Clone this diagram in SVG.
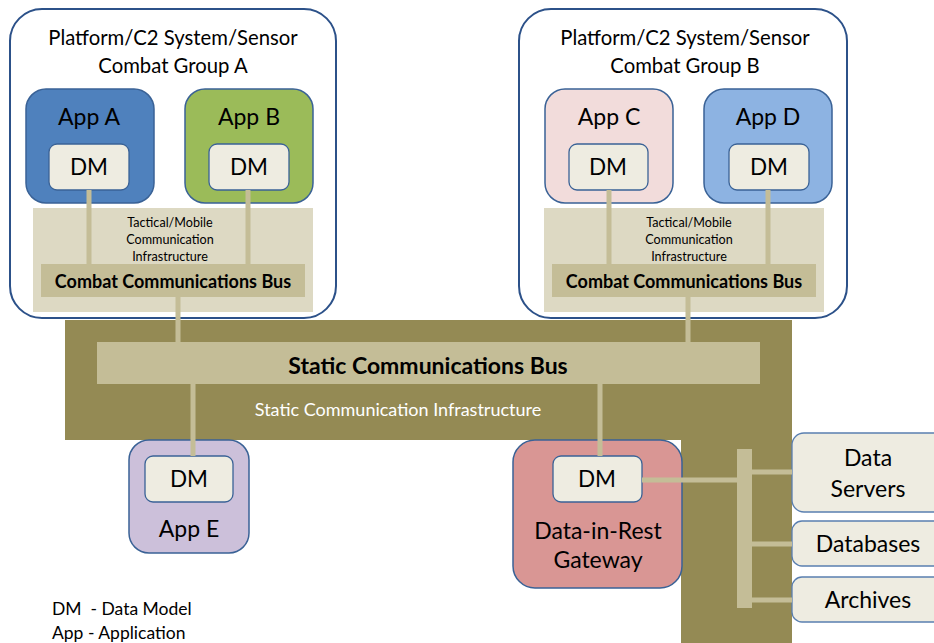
<svg xmlns="http://www.w3.org/2000/svg" width="934" height="643" viewBox="0 0 934 643">
<style>
text{font-family:Lato,"Liberation Sans",sans-serif;fill:#000;text-anchor:middle}
.grp{fill:#fff;stroke:#2c5189;stroke-width:2}
.app{stroke:#3a6296;stroke-width:1.5}
.dm{fill:#eeece1;stroke:#3a6296;stroke-width:1.3}
.tac{fill:#ddd9c3}
.bus{fill:#c4bd97}
.olive{fill:#948a54}
.conn{stroke:#c4bd97;stroke-width:5;fill:none}
.store{fill:#eeece1;stroke:#5a7fb0;stroke-width:1.3}
.t19{font-size:20.3px}
.t22{font-size:23px}
.dmt{font-size:22.5px}
.small{font-size:12.6px}
.bold{font-weight:bold}
</style>
<g id="static-infrastructure">
<path class="olive" d="M65 320 H792 V643 H681 V440 H65 Z"/>
<rect class="bus" x="97" y="342" width="663" height="42"/>
<text class="bold" x="428" y="374" style="font-size:23px">Static Communications Bus</text>
<text x="398" y="416" style="font-size:18px;fill:#fff">Static Communication Infrastructure</text>
</g>
<g id="group-a">
<rect class="grp" x="10" y="9" width="326" height="309" rx="32"/>
<text class="t19" x="173" y="45">Platform/C2 System/Sensor</text>
<text class="t19" x="173" y="73">Combat Group A</text>
<rect class="tac" x="33" y="208" width="280" height="104"/>
<text class="small" x="170" y="227">Tactical/Mobile</text>
<text class="small" x="170" y="244">Communication</text>
<text class="small" x="170" y="261">Infrastructure</text>
<rect class="bus" x="41" y="264" width="264" height="33"/>
<text class="bold" x="173" y="288" style="font-size:18px">Combat Communications Bus</text>
</g>
<g id="app-a">
<rect class="app" x="26" y="89" width="128" height="114" rx="20" fill="#4f81bd"/>
<text class="t22" x="89" y="125">App A</text>
<rect class="dm" x="49" y="144" width="80" height="46" rx="8"/>
<text class="dmt" x="89" y="175">DM</text>
</g>
<g id="app-b">
<rect class="app" x="185" y="89" width="128" height="114" rx="20" fill="#9bbb59"/>
<text class="t22" x="249" y="125">App B</text>
<rect class="dm" x="209" y="144" width="80" height="46" rx="8"/>
<text class="dmt" x="249" y="175">DM</text>
</g>
<g id="group-b">
<rect class="grp" x="519" y="9" width="328" height="309" rx="32"/>
<text class="t19" x="685" y="45">Platform/C2 System/Sensor</text>
<text class="t19" x="685" y="73">Combat Group B</text>
<rect class="tac" x="544" y="208" width="280" height="104"/>
<text class="small" x="689" y="227">Tactical/Mobile</text>
<text class="small" x="689" y="244">Communication</text>
<text class="small" x="689" y="261">Infrastructure</text>
<rect class="bus" x="552" y="264" width="264" height="33"/>
<text class="bold" x="684" y="288" style="font-size:18px">Combat Communications Bus</text>
</g>
<g id="app-c">
<rect class="app" x="545" y="89" width="128" height="114" rx="20" fill="#f2dcdb"/>
<text class="t22" x="609" y="125">App C</text>
<rect class="dm" x="569" y="144" width="79" height="46" rx="8"/>
<text class="dmt" x="608" y="175">DM</text>
</g>
<g id="app-d">
<rect class="app" x="704" y="89" width="128" height="114" rx="20" fill="#8db3e2"/>
<text class="t22" x="768" y="125">App D</text>
<rect class="dm" x="729" y="144" width="80" height="46" rx="8"/>
<text class="dmt" x="769" y="175">DM</text>
</g>
<g id="app-e">
<rect class="app" x="129" y="440" width="120" height="113" rx="20" fill="#ccc0da"/>
<rect class="dm" x="145" y="456" width="88" height="46" rx="8"/>
<text class="dmt" x="189" y="487">DM</text>
<text class="t22" x="189" y="537">App E</text>
</g>
<g id="gateway">
<rect class="app" x="513" y="440" width="169" height="148" rx="22" fill="#d99694"/>
<rect class="dm" x="553" y="456" width="89" height="46" rx="8"/>
<text class="dmt" x="597" y="487">DM</text>
<text class="t22" x="598" y="539">Data-in-Rest</text>
<text class="t22" x="598" y="568">Gateway</text>
</g>
<g id="data-servers">
<rect class="store" x="792" y="433" width="160" height="79" rx="12"/>
<text class="t22" x="868" y="466">Data</text>
<text class="t22" x="868" y="497">Servers</text>
</g>
<g id="databases">
<rect class="store" x="792" y="521" width="160" height="45" rx="10"/>
<text class="t22" x="868" y="552">Databases</text>
</g>
<g id="archives">
<rect class="store" x="792" y="577" width="160" height="45" rx="10"/>
<text class="t22" x="868" y="608">Archives</text>
</g>
<g id="connectors">
<path class="conn" d="M89 190 V264 M248 190 V264 M609 190 V264 M768 190 V264"/>
<path class="conn" d="M178 297 V342 M688 297 V342"/>
<path class="conn" d="M193 384 V456 M600 384 V456"/>
<path class="conn" d="M642 480 H740"/>
<rect x="737" y="449" width="15" height="159" fill="#c4bd97"/>
<path class="conn" d="M752 472 H792 M752 544 H792 M752 600 H792"/>
</g>
<g id="legend">
<text x="52" y="615" style="font-size:17.5px;text-anchor:start;white-space:pre">DM  - Data Model</text>
<text x="52" y="639" style="font-size:17.5px;text-anchor:start">App - Application</text>
</g>
</svg>
